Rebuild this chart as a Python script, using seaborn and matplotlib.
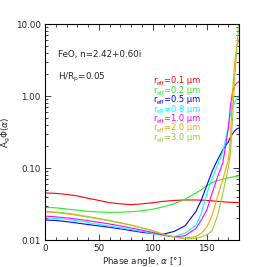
import numpy as np
import pandas as pd
import matplotlib
matplotlib.use("Agg")
import matplotlib.pyplot as plt
import seaborn as sns
from matplotlib.ticker import MultipleLocator, LogLocator, NullFormatter, FixedLocator
from matplotlib.transforms import offset_copy

# phase angle grid (deg)
phase = [0, 10, 20, 30, 40, 50, 60, 70, 80, 90, 100, 110, 120, 130, 140,
         145, 150, 155, 160, 165, 170, 172, 174, 176, 178, 180]

# A_g * Phi(alpha), one list per particle size
r01 = [0.045, 0.0445, 0.043, 0.041, 0.038, 0.0355, 0.033, 0.0318, 0.031, 0.0318, 0.033, 0.0345, 0.0355,
       0.036, 0.036, 0.0358, 0.0355, 0.035, 0.0345, 0.034, 0.0335, 0.0334, 0.0333, 0.0332, 0.0331, 0.033]
r02 = [0.0284, 0.028, 0.027, 0.026, 0.025, 0.0245, 0.0243, 0.0243, 0.0248, 0.0255, 0.0268, 0.029, 0.032,
       0.037, 0.045, 0.050, 0.057, 0.063, 0.067, 0.070, 0.073, 0.074, 0.075, 0.076, 0.077, 0.078]
r05 = [0.019, 0.0187, 0.018, 0.0172, 0.0164, 0.0157, 0.015, 0.0143, 0.0135, 0.0128, 0.0123, 0.0121, 0.0132,
       0.0158, 0.025, 0.036, 0.057, 0.09, 0.13, 0.18, 0.23, 0.27, 0.30, 0.33, 0.35, 0.36]
r08 = [0.0204, 0.020, 0.0193, 0.0185, 0.0175, 0.0165, 0.0157, 0.0148, 0.014, 0.0132, 0.0123, 0.0115, 0.0112,
       0.0125, 0.016, 0.0234, 0.044, 0.072, 0.11, 0.17, 0.38, 0.55, 0.70, 0.83, 0.92, 0.97]
r10 = [0.0215, 0.021, 0.0203, 0.0195, 0.0186, 0.0176, 0.0167, 0.0157, 0.0147, 0.0137, 0.0127, 0.0117, 0.011,
       0.0115, 0.0145, 0.019, 0.026, 0.045, 0.075, 0.12, 0.35, 0.75, 1.15, 1.40, 1.52, 1.58]
r20 = [0.0247, 0.024, 0.0232, 0.022, 0.0208, 0.0196, 0.0185, 0.0172, 0.016, 0.0147, 0.0133, 0.012, 0.011,
       0.0106, 0.0112, 0.0125, 0.015, 0.022, 0.04, 0.07, 0.13, 0.25, 1.2, 3.0, 5.0, 6.2]
r30 = [0.025, 0.0245, 0.0236, 0.0224, 0.0212, 0.0199, 0.0187, 0.0174, 0.0161, 0.0148, 0.0135, 0.012, 0.011,
       0.0104, 0.0106, 0.011, 0.0118, 0.0135, 0.022, 0.045, 0.10, 0.16, 0.5, 1.8, 5.0, 12.0]

sizes = ["0.1", "0.2", "0.5", "0.8", "1.0", "2.0", "3.0"]
series = [r01, r02, r05, r08, r10, r20, r30]
colors = ["#ff0000", "#22ee22", "#0000ff", "#00ffff", "#ff00ff", "#ffa500", "#9acd32"]

rows = []
for s, vals in zip(sizes, series):
    for a, v in zip(phase, vals):
        rows.append({"phase": a, "val": v, "size": s})
df = pd.DataFrame(rows)

sns.set_style("ticks")
plt.rcParams['font.family'] = ['DejaVu Sans']
plt.rcParams['xtick.direction'] = 'in'
plt.rcParams['ytick.direction'] = 'in'

fig = plt.figure(figsize=(2.67, 2.67), dpi=100)
ax = fig.add_axes([0.1685, 0.101, 0.727, 0.809])

sns.lineplot(data=df, x="phase", y="val", hue="size", palette=colors,
             linewidth=0.8, legend=False, ax=ax)

ax.set_yscale("log")
ax.set_xlim(0, 180)
ax.set_ylim(0.01, 10)

ax.xaxis.set_major_locator(FixedLocator([0, 50, 100, 150]))
ax.xaxis.set_minor_locator(MultipleLocator(10))
ax.yaxis.set_minor_locator(LogLocator(base=10, subs=np.arange(2, 10), numticks=20))
ax.yaxis.set_minor_formatter(NullFormatter())
ax.set_yticks([0.01, 0.1, 1, 10])
ax.set_yticklabels(["0.01", "0.10", "1.00", "10.00"])

ax.tick_params(which="both", top=True, right=True, labelsize=6.3, width=0.6, pad=3)
ax.tick_params(which="major", length=4.5)
ax.tick_params(which="minor", length=2.5)
for sp in ax.spines.values():
    sp.set_linewidth(0.8)
    sp.set_color("black")

ax.set_xlabel(r"Phase angle, $\alpha$ [$\degree$]", fontsize=6.3, labelpad=1)
ax.set_ylabel(r"A$_{\rm g}\Phi(\alpha)$", fontsize=6.3, labelpad=2)

ax.text(0.065, 0.857, "FeO, n=2.42+0.60i", transform=ax.transAxes, fontsize=6.3, va="center")
ax.text(0.065, 0.755, r"H/R$_{\rm p}$=0.05", transform=ax.transAxes, fontsize=6.3, va="center")

# size labels: "r", subscript "eff", then "=x.x µm" as plain texts
y0 = 0.725
for i, (s, c) in enumerate(zip(sizes, colors)):
    y = y0 - i * 0.0435
    ax.text(0.56, y, "r", color=c, transform=ax.transAxes, fontsize=6.0, va="baseline")
    tsub = offset_copy(ax.transAxes, fig=fig, x=2.4, y=-1.3, units="points")
    ax.text(0.56, y, "eff", color=c, transform=tsub, fontsize=4.0, va="baseline")
    trest = offset_copy(ax.transAxes, fig=fig, x=7.6, y=0, units="points")
    ax.text(0.56, y, "=" + s + " µm", color=c, transform=trest, fontsize=6.0, va="baseline")

fig.savefig("out.png", dpi=100)
